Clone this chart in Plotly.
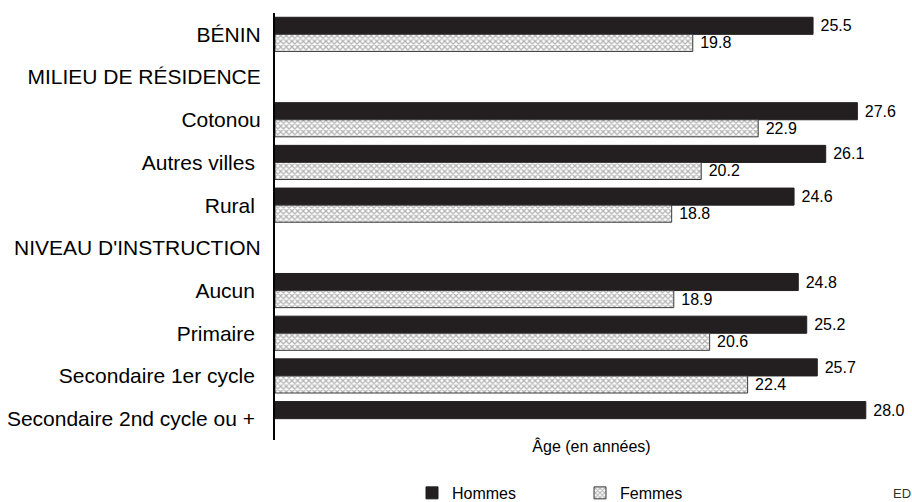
import plotly.graph_objects as go

# Categories top to bottom (headers have no values)
categories = [
    "BÉNIN",
    "MILIEU DE RÉSIDENCE",
    "Cotonou",
    "Autres villes ",
    "Rural ",
    "NIVEAU D'INSTRUCTION",
    "Aucun ",
    "Primaire ",
    "Secondaire 1er cycle ",
    "Secondaire 2nd cycle ou + ",
]
hommes = [25.5, None, 27.6, 26.1, 24.6, None, 24.8, 25.2, 25.7, 28.0]
femmes = [19.8, None, 22.9, 20.2, 18.8, None, 18.9, 20.6, 22.4, None]


def fmt(vals):
    # leading nbsp gives the small gap between bar end and label
    return ["\u00a0" + f"{v:.1f}" if v is not None else "" for v in vals]


FONT = 'Liberation Sans, Arial'

fig = go.Figure()

fig.add_trace(go.Bar(
    y=categories, x=hommes, orientation='h', name='Hommes',
    marker=dict(color='#231f20', line=dict(color='#231f20', width=1)),
    text=fmt(hommes), textposition='outside', cliponaxis=False,
    textfont=dict(family=FONT, size=16, color='black'),
))
fig.add_trace(go.Bar(
    y=categories, x=femmes, orientation='h', name='Femmes',
    marker=dict(
        color='white',
        line=dict(color='#3a3a3a', width=1),
        pattern=dict(shape='x', fgcolor='#666666', bgcolor='white', size=4, solidity=0.55),
    ),
    text=fmt(femmes), textposition='outside', cliponaxis=False,
    textfont=dict(family=FONT, size=16, color='black'),
))

fig.update_layout(
    width=912, height=502,
    barmode='group', bargap=0.2, bargroupgap=0,
    plot_bgcolor='white', paper_bgcolor='white',
    margin=dict(l=275, r=4, t=13, b=62, autoexpand=False),
    font=dict(family=FONT, color='black'),
    xaxis=dict(
        range=[0, 30], showgrid=False, zeroline=False, showline=False,
        showticklabels=False, ticks='', automargin=False,
        title=dict(text='Âge (en années)', font=dict(size=16), standoff=0),
    ),
    yaxis=dict(
        autorange='reversed', showgrid=False, zeroline=False, automargin=False,
        showline=True, linecolor='black', linewidth=2,
        ticks='', ticklabelstandoff=8,
        tickfont=dict(size=21),
    ),
    legend=dict(
        orientation='h', xref='container', yref='paper',
        x=412 / 912, xanchor='left', y=-0.124, yanchor='middle',
        font=dict(size=16), entrywidth=123, itemwidth=30,
    ),
)

fig.add_annotation(
    text='ED', xref='paper', yref='paper',
    x=(891 - 275) / 633, y=-0.126, xanchor='left', yanchor='middle',
    showarrow=False, font=dict(size=13, color='#333333'),
)

# drop the browser's default body margin so the figure sits at the page corner
fig.write_html("out.html", config={'displayModeBar': False},
               post_script="document.body.style.margin='0';")
